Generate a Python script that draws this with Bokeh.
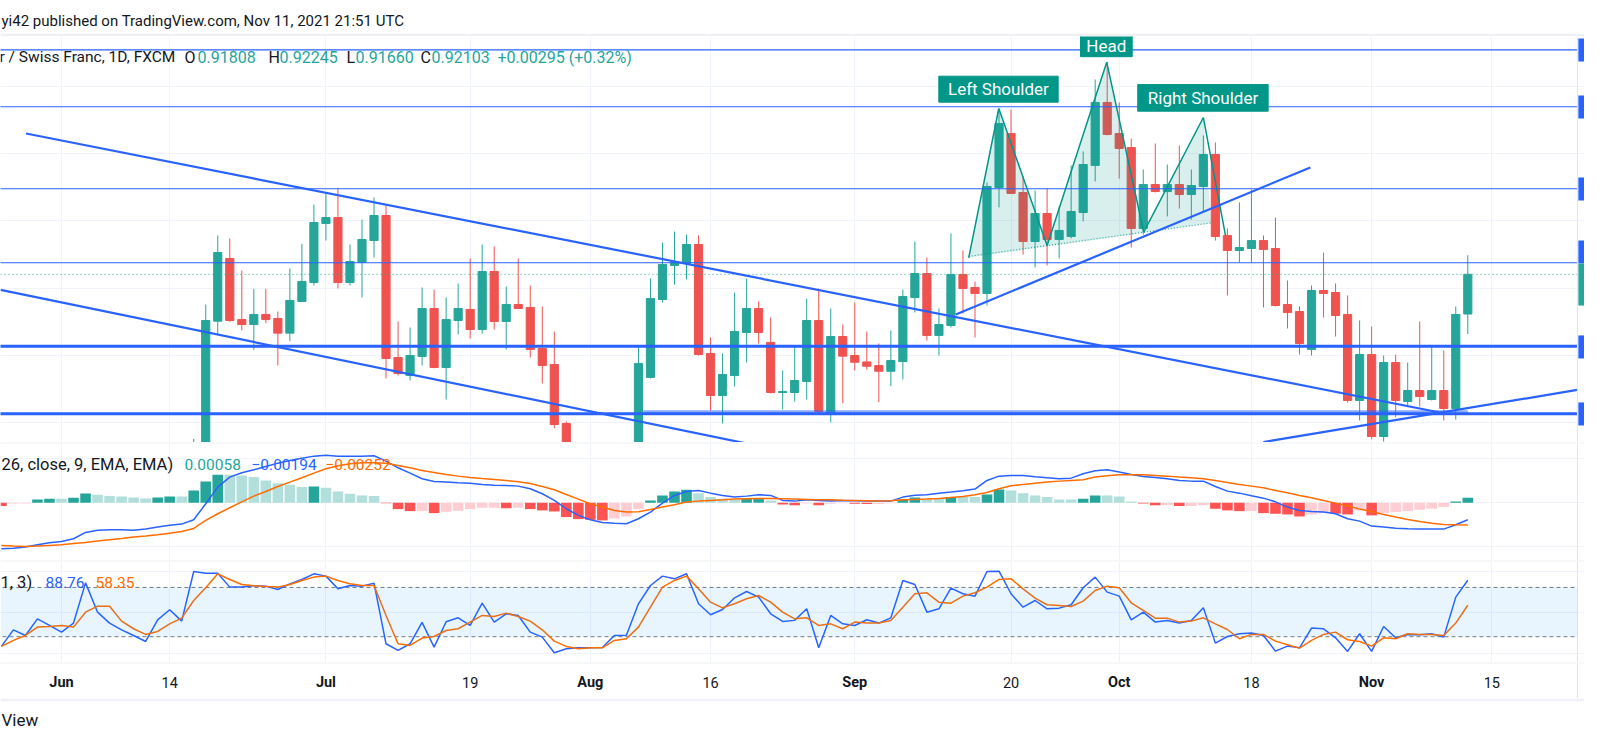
from bokeh.plotting import figure
from bokeh.layouts import column
from bokeh.models import Range1d, FixedTicker, Span, BoxAnnotation, Label, Grid
from bokeh.core.properties import value
from bokeh.embed import file_html
from bokeh.resources import INLINE

FONT = "Roboto"
TEXT = "#131722"
UP = "#26a69a"
DOWN = "#ef5350"
BLUE = "#2962ff"
ORANGE = "#ff6d00"
GRID = "#f0f3fa"
SEP = "#e0e3eb"
HS = "#009688"

# ---------------- data ----------------
# bar index 0 = Tue Jun 1 2021 (daily bars, Mon-Fri)
first_bar = -5          # first indicator bar on screen
candle_first = 11       # first candle that reaches into the visible price range

tick_bars = [0, 9, 22, 34, 44, 54, 66, 79, 88, 99, 109, 119]
tick_labels = ["Jun", "14", "Jul", "19", "Aug", "16", "Sep", "20", "Oct", "18", "Nov", "15"]
tick_is_month = [True, False, True, False, True, False, True, False, True, False, True, False]

opens = [0.89850, 0.90400, 0.91755, 0.92221, 0.91767, 0.91730, 0.91805, 0.91775, 0.91666, 0.91901,
         0.92042, 0.92481, 0.92525, 0.92042, 0.92191, 0.92354, 0.92540, 0.91485, 0.91351, 0.91493,
         0.91849, 0.91411, 0.91760, 0.91842, 0.91693, 0.92124, 0.91753, 0.91879, 0.91857, 0.91552,
         0.91433, 0.90995, 0.90780, 0.90610, 0.90680, 0.90410, 0.90520, 0.90660, 0.91337, 0.91916,
         0.92169, 0.92184, 0.92325, 0.91515, 0.91203, 0.91351, 0.91671, 0.91849, 0.91597, 0.91225,
         0.91225, 0.91307, 0.91760, 0.91069, 0.91641, 0.91500, 0.91452, 0.91425, 0.91383, 0.91455,
         0.91931, 0.92109, 0.91649, 0.91723, 0.92102, 0.92005, 0.91961, 0.92748, 0.93149, 0.92711,
         0.92347, 0.92555, 0.92362, 0.92384, 0.92562, 0.92912, 0.93380, 0.93149, 0.93045, 0.92444,
         0.92770, 0.92718, 0.92770, 0.92696, 0.92756, 0.92993, 0.92392, 0.92280, 0.92295, 0.92354,
         0.92295, 0.91879, 0.91827, 0.91545, 0.91983, 0.91968, 0.91805, 0.91166, 0.91507, 0.90898,
         0.91448, 0.91158, 0.91240, 0.91173, 0.91240, 0.91106, 0.91808]
highs = [0.90880, 0.91879, 0.92392, 0.92369, 0.92131, 0.91995, 0.91995, 0.91827, 0.92146, 0.92330,
         0.92622, 0.92713, 0.92746, 0.92325, 0.92510, 0.92674, 0.92614, 0.91753, 0.91708, 0.92005,
         0.91990, 0.91931, 0.92035, 0.92221, 0.92325, 0.92310, 0.92013, 0.92221, 0.92020, 0.91864,
         0.91678, 0.91010, 0.90830, 0.90770, 0.90800, 0.90620, 0.90740, 0.91567, 0.92072, 0.92340,
         0.92421, 0.92399, 0.92392, 0.91634, 0.91515, 0.91968, 0.92072, 0.91901, 0.91782, 0.91389,
         0.91574, 0.91923, 0.91998, 0.91849, 0.91730, 0.91894, 0.91678, 0.91589, 0.91686, 0.91990,
         0.92347, 0.92228, 0.91849, 0.92406, 0.92280, 0.92050, 0.92785, 0.93335, 0.93328, 0.92830,
         0.92726, 0.92741, 0.92607, 0.92912, 0.93016, 0.93551, 0.93679, 0.93380, 0.93112, 0.92882,
         0.93075, 0.92919, 0.93060, 0.92882, 0.93135, 0.93083, 0.92444, 0.92637, 0.92733, 0.92392,
         0.92525, 0.92057, 0.91864, 0.92020, 0.92265, 0.92035, 0.91946, 0.91760, 0.91715, 0.91500,
         0.91507, 0.91448, 0.91753, 0.91567, 0.91537, 0.91864, 0.92245]
lows = [0.89700, 0.90300, 0.91661, 0.91750, 0.91686, 0.91542, 0.91740, 0.91426, 0.91606, 0.91897,
        0.92020, 0.92354, 0.91998, 0.92020, 0.91931, 0.92228, 0.91329, 0.91351, 0.91314, 0.91426,
        0.91405, 0.91173, 0.91656, 0.91626, 0.91663, 0.91693, 0.91545, 0.91845, 0.91485, 0.91292,
        0.90960, 0.90700, 0.90550, 0.90430, 0.90350, 0.90180, 0.90400, 0.90600, 0.91330, 0.91894,
        0.92027, 0.92065, 0.91500, 0.91091, 0.90995, 0.91270, 0.91448, 0.91589, 0.91218, 0.91099,
        0.91158, 0.91173, 0.91062, 0.91002, 0.91146, 0.91389, 0.91396, 0.91153, 0.91272, 0.91322,
        0.91819, 0.91611, 0.91500, 0.91708, 0.91812, 0.91634, 0.91871, 0.92600, 0.92700, 0.92250,
        0.92154, 0.92169, 0.92221, 0.92369, 0.92496, 0.92793, 0.93135, 0.92815, 0.92302, 0.92399,
        0.92711, 0.92533, 0.92592, 0.92510, 0.92570, 0.92354, 0.91946, 0.92191, 0.92191, 0.91857,
        0.91864, 0.91701, 0.91507, 0.91500, 0.91782, 0.91641, 0.91151, 0.91017, 0.90878, 0.90860,
        0.91042, 0.91121, 0.91121, 0.91166, 0.91017, 0.91024, 0.91660]
closes = [0.90400, 0.91760, 0.92265, 0.91760, 0.91730, 0.91805, 0.91767, 0.91666, 0.91909, 0.92050,
          0.92488, 0.92525, 0.92042, 0.92198, 0.92362, 0.92540, 0.91478, 0.91366, 0.91500, 0.91849,
          0.91411, 0.91767, 0.91849, 0.91693, 0.92124, 0.91753, 0.91879, 0.91849, 0.91545, 0.91426,
          0.90987, 0.90780, 0.90610, 0.90680, 0.90410, 0.90520, 0.90660, 0.91441, 0.91923, 0.92176,
          0.92191, 0.92325, 0.91507, 0.91203, 0.91359, 0.91678, 0.91849, 0.91671, 0.91225, 0.91232,
          0.91314, 0.91760, 0.91084, 0.91641, 0.91495, 0.91450, 0.91420, 0.91383, 0.91463, 0.91938,
          0.92109, 0.91649, 0.91730, 0.92102, 0.91998, 0.91961, 0.92756, 0.93224, 0.92704, 0.92347,
          0.92555, 0.92362, 0.92429, 0.92570, 0.92919, 0.93380, 0.93142, 0.93038, 0.92444, 0.92770,
          0.92718, 0.92770, 0.92696, 0.92763, 0.92993, 0.92384, 0.92280, 0.92302, 0.92354, 0.92288,
          0.91871, 0.91819, 0.91589, 0.91983, 0.91961, 0.91797, 0.91166, 0.91507, 0.90898, 0.91448,
          0.91166, 0.91240, 0.91195, 0.91240, 0.91106, 0.91805, 0.92103]

macd_line = [-0.00524, -0.00517, -0.00505, -0.00479, -0.00456, -0.00441, -0.00410, -0.00338, -0.00312, -0.00308,
             -0.00308, -0.00312, -0.00300, -0.00277, -0.00255, -0.00243, -0.00194, -0.00011, 0.00179, 0.00293,
             0.00342, 0.00376, 0.00414, 0.00452, 0.00483, 0.00509, 0.00532, 0.00543, 0.00532, 0.00532,
             0.00532, 0.00536, 0.00475, 0.00399, 0.00338, 0.00274, 0.00243, 0.00236, 0.00228, 0.00224,
             0.00209, 0.00201, 0.00198, 0.00190, 0.00160, 0.00103, 0.00027, -0.00068, -0.00144, -0.00194,
             -0.00224, -0.00232, -0.00239, -0.00182, -0.00106, -0.00004, 0.00084, 0.00129, 0.00141, 0.00110,
             0.00084, 0.00065, 0.00076, 0.00091, 0.00084, 0.00027, 0.00019, 0.00034, 0.00027, 0.00019,
             0.00027, 0.00023, 0.00019, 0.00019, 0.00019, 0.00065, 0.00087, 0.00091, 0.00110, 0.00122,
             0.00137, 0.00156, 0.00255, 0.00304, 0.00312, 0.00312, 0.00296, 0.00285, 0.00274, 0.00281,
             0.00331, 0.00365, 0.00376, 0.00350, 0.00323, 0.00300, 0.00289, 0.00274, 0.00255, 0.00247,
             0.00247, 0.00186, 0.00133, 0.00110, 0.00080, 0.00053, 0.00011, -0.00049, -0.00087, -0.00099,
             -0.00106, -0.00125, -0.00182, -0.00209, -0.00266, -0.00277, -0.00289, -0.00296, -0.00300, -0.00300,
             -0.00300, -0.00251, -0.00194]
signal_line = [-0.00486, -0.00494, -0.00498, -0.00494, -0.00486, -0.00479, -0.00464, -0.00452, -0.00437, -0.00422,
               -0.00407, -0.00391, -0.00380, -0.00365, -0.00346, -0.00327, -0.00293, -0.00201, -0.00125, -0.00057,
               0.00011, 0.00076, 0.00129, 0.00186, 0.00236, 0.00285, 0.00338, 0.00388, 0.00422, 0.00445,
               0.00456, 0.00456, 0.00452, 0.00426, 0.00399, 0.00369, 0.00346, 0.00323, 0.00304, 0.00289,
               0.00277, 0.00266, 0.00255, 0.00239, 0.00220, 0.00186, 0.00148, 0.00095, 0.00042, -0.00011,
               -0.00049, -0.00087, -0.00106, -0.00103, -0.00076, -0.00049, -0.00023, 0.00008, 0.00019, 0.00027,
               0.00034, 0.00042, 0.00046, 0.00049, 0.00049, 0.00046, 0.00042, 0.00038, 0.00034, 0.00034,
               0.00030, 0.00027, 0.00023, 0.00019, 0.00023, 0.00034, 0.00038, 0.00042, 0.00049, 0.00061,
               0.00072, 0.00091, 0.00118, 0.00160, 0.00194, 0.00209, 0.00224, 0.00236, 0.00247, 0.00255,
               0.00262, 0.00293, 0.00308, 0.00319, 0.00319, 0.00319, 0.00312, 0.00304, 0.00293, 0.00285,
               0.00274, 0.00255, 0.00232, 0.00209, 0.00190, 0.00171, 0.00141, 0.00114, 0.00084, 0.00057,
               0.00027, -0.00004, -0.00034, -0.00072, -0.00099, -0.00133, -0.00163, -0.00190, -0.00213, -0.00232,
               -0.00247, -0.00251, -0.00252]
macd_hist = [-0.00038, -0.00008, -0.00008, 0.00038, 0.00046, 0.00046, 0.00057, 0.00106, 0.00091, 0.00076,
             0.00072, 0.00061, 0.00049, 0.00061, 0.00072, 0.00072, 0.00141, 0.00243, 0.00319, 0.00319,
             0.00312, 0.00293, 0.00255, 0.00224, 0.00205, 0.00179, 0.00186, 0.00171, 0.00129, 0.00103,
             0.00084, 0.00076, -0.00004, -0.00072, -0.00095, -0.00095, -0.00118, -0.00103, -0.00091, -0.00072,
             -0.00057, -0.00057, -0.00061, -0.00057, -0.00072, -0.00087, -0.00099, -0.00163, -0.00186, -0.00194,
             -0.00201, -0.00179, -0.00156, -0.00072, 0.00027, 0.00084, 0.00129, 0.00148, 0.00110, 0.00065,
             0.00046, 0.00038, 0.00046, 0.00053, 0.00027, -0.00019, -0.00027, -0.00008, -0.00027, -0.00011,
             -0.00004, -0.00011, -0.00015, -0.00015, -0.00004, 0.00034, 0.00061, 0.00046, 0.00046, 0.00065,
             0.00065, 0.00065, 0.00095, 0.00152, 0.00141, 0.00110, 0.00084, 0.00065, 0.00038, 0.00038,
             0.00046, 0.00084, 0.00084, 0.00072, 0.00015, -0.00008, -0.00027, -0.00027, -0.00038, -0.00038,
             -0.00027, -0.00068, -0.00087, -0.00095, -0.00095, -0.00118, -0.00125, -0.00133, -0.00156, -0.00133,
             -0.00118, -0.00125, -0.00133, -0.00087, -0.00144, -0.00118, -0.00106, -0.00095, -0.00080, -0.00068,
             -0.00049, 0.00015, 0.00058]

stoch_k = [8.2, 28.4, 21.5, 41.8, 33.7, 25.6, 36.6, 85.6, 49.9, 36.6,
           28.4, 21.5, 14.2, 40.6, 52.8, 39.0, 99.4, 97.4, 97.4, 80.4,
           80.4, 82.0, 81.6, 77.5, 84.4, 89.7, 96.6, 93.8, 78.3, 82.4,
           81.6, 85.2, 11.4, 3.3, 11.4, 37.4, 7.3, 38.2, 43.0, 33.7,
           60.9, 37.8, 47.9, 45.9, 25.6, 19.5, 0.4, 5.3, 6.5, 6.5,
           6.9, 21.5, 21.9, 60.1, 82.4, 93.8, 90.5, 96.6, 60.1, 46.7,
           53.2, 67.4, 75.1, 68.2, 47.9, 38.6, 39.9, 54.0, 6.5, 45.9,
           35.7, 33.7, 40.6, 36.6, 43.0, 88.5, 83.6, 49.9, 54.0, 79.1,
           72.3, 69.4, 99.4, 99.8, 72.3, 56.0, 64.1, 54.0, 54.8, 58.9,
           79.6, 92.6, 74.3, 69.4, 40.6, 49.9, 37.8, 39.8, 36.6, 39.8,
           55.2, 12.2, 20.3, 23.6, 24.4, 21.5, 2.5, 8.6, 6.5, 30.5,
           29.6, 18.7, 2.1, 23.6, 2.1, 32.5, 18.7, 22.7, 22.3, 23.6,
           19.5, 68.2, 88.76]
stoch_d = [8.2, 15.5, 21.5, 31.7, 32.5, 33.7, 31.7, 49.9, 57.2, 57.2,
           39.0, 29.7, 22.8, 26.4, 35.7, 42.6, 64.1, 79.6, 96.6, 89.7,
           83.6, 82.0, 81.2, 80.4, 83.6, 88.5, 92.6, 93.8, 88.5, 84.4,
           82.4, 82.4, 45.9, 11.4, 9.4, 18.3, 20.3, 27.6, 29.7, 37.8,
           45.9, 44.7, 48.7, 44.7, 39.0, 28.4, 14.6, 8.2, 5.3, 6.5,
           6.5, 15.5, 17.5, 31.7, 56.0, 80.4, 88.5, 93.8, 78.3, 62.1,
           55.2, 60.1, 66.2, 70.2, 62.1, 49.9, 41.8, 43.0, 33.7, 35.7,
           29.7, 37.8, 36.6, 36.6, 39.8, 56.0, 72.3, 73.5, 62.1, 60.9,
           69.4, 73.5, 80.4, 89.7, 90.5, 78.3, 67.0, 58.9, 58.0, 56.8,
           63.3, 76.3, 81.6, 79.6, 61.3, 52.0, 42.6, 42.6, 37.8, 39.0,
           43.0, 35.7, 28.8, 17.5, 22.8, 22.8, 14.6, 10.2, 6.1, 15.5,
           22.8, 25.6, 16.3, 14.2, 8.6, 18.7, 17.5, 23.6, 22.8, 22.8,
           21.5, 36.6, 58.35]

# horizontal levels drawn on the chart
levels_thin = [0.93771, 0.93348, 0.92739, 0.92189]
levels_thick = [0.91569, 0.91067]
# trend lines (bar index, price)
upper_channel_x = [-2.95, 115.1]
upper_channel_y = [0.93149, 0.91069]
lower_channel_x = [-5.07, 60.0]
lower_channel_y = [0.91988, 0.90791]
rising_trend_x = [74.4, 103.9]
rising_trend_y = [0.91805, 0.92897]
rising_support_x = [100.0, 126.1]
rising_support_y = [0.90857, 0.91244]
support_ray_x = [48.4, 117.0]
support_ray_y = [0.91082, 0.91082]
# head & shoulders pattern
hs_x = [75.48, 77.98, 82.0, 86.96, 90.04, 95.0, 96.84]
hs_y = [0.92226, 0.93335, 0.92317, 0.93679, 0.92416, 0.93268, 0.92392]
neck_x = [75.48, 95.67]
neck_y = [0.92237, 0.92485]
hs_labels = ["Left Shoulder", "Head", "Right Shoulder"]
hs_label_x = [77.95, 86.93, 94.97]
hs_label_y = [0.93478, 0.93800, 0.93414]
hs_box_left = [72.99, 84.78, 89.54]
hs_box_right = [82.92, 89.08, 100.39]
hs_box_bottom = [0.93382, 0.93720, 0.93315]
hs_box_top = [0.93575, 0.93930, 0.93513]
# price-scale tags (only their left edge is on screen)
tag_bottom = [0.93684, 0.93261, 0.92652, 0.92184, 0.91871, 0.91478, 0.90980]
tag_top = [0.93855, 0.93432, 0.92823, 0.92354, 0.92184, 0.91649, 0.91151]
tag_color = [BLUE, BLUE, BLUE, BLUE, UP, BLUE, BLUE]

# ---------------- layout helpers ----------------
W = 1584
X0, X1 = -5.075, 126.71
BORDER = 126.12
xr = Range1d(X0, X1)


def make_fig(h, x_range, y_range, top=0, bottom=0, fill=SEP):
    p = figure(width=W, height=h, x_range=x_range, y_range=y_range,
               output_backend="svg", toolbar_location=None,
               x_axis_type=None, y_axis_type=None, title=None, min_border=0)
    p.min_border_top = top
    p.min_border_bottom = bottom
    p.min_border_left = 0
    p.min_border_right = 0
    p.outline_line_color = None
    p.border_fill_color = fill
    p.background_fill_color = "white"
    return p


def add_grids(p, yticks):
    p.add_layout(Grid(dimension=0, ticker=FixedTicker(ticks=tick_bars), grid_line_color=GRID, grid_line_width=1))
    p.add_layout(Grid(dimension=1, ticker=FixedTicker(ticks=yticks), grid_line_color=GRID, grid_line_width=1))
    p.add_layout(Span(location=BORDER, dimension="height", line_color=SEP, line_width=1))


def add_label(p, x_px, y, text, color, size):
    p.add_layout(Label(x=x_px, y=y, x_units="screen", y_units="data", text=text,
                       text_color=color, text_font=FONT, text_font_size=size,
                       text_baseline="middle", text_align="left"))


# ---------------- header ----------------
header = make_fig(36, Range1d(0, W), Range1d(33, 0), bottom=3, fill="#eef0f4")
header.text(x=[1], y=[20], text=["yi42 published on TradingView.com, Nov 11, 2021 21:51 UTC"],
            text_font=value(FONT), text_font_size=value("15px"), text_color=TEXT,
            text_baseline="middle", text_align="left")

# ---------------- main price pane ----------------
main = make_fig(406, xr, Range1d(0.908536, 0.93870))
add_grids(main, [0.910, 0.915, 0.920, 0.925, 0.930, 0.935])

cx = list(range(candle_first, candle_first + len(opens)))
ccol = [UP if c >= o else DOWN for o, c in zip(opens, closes)]
main.segment(x0=cx, y0=lows, x1=cx, y1=highs, line_color=ccol, line_width=1)
main.vbar(x=cx, width=0.68, top=[max(o, c) for o, c in zip(opens, closes)],
          bottom=[min(o, c) for o, c in zip(opens, closes)],
          fill_color=ccol, line_color=ccol, line_width=1)

# last close dotted line
main.segment(x0=[X0 - 1], x1=[BORDER], y0=[closes[-1]], y1=[closes[-1]],
             line_color=UP, line_width=1, line_dash="1 3")

# head & shoulders
main.patch(hs_x[:6] + [neck_x[1]], hs_y[:6] + [neck_y[1]], fill_color=HS, fill_alpha=0.15, line_color=None)
main.line(hs_x, hs_y, line_color=HS, line_width=1.5)
main.line(neck_x, neck_y, line_color=HS, line_width=1.2, line_dash="1 2", alpha=0.8)

# horizontal levels
main.segment(x0=[X0 - 1] * len(levels_thin), x1=[BORDER] * len(levels_thin),
             y0=levels_thin, y1=levels_thin, line_color=BLUE, line_width=1.2)
main.segment(x0=[X0 - 1] * len(levels_thick), x1=[BORDER] * len(levels_thick),
             y0=levels_thick, y1=levels_thick, line_color=BLUE, line_width=3)
main.line(support_ray_x, support_ray_y, line_color=BLUE, line_width=3, alpha=0.55)

# trend lines
for xs, ys in [(upper_channel_x, upper_channel_y), (lower_channel_x, lower_channel_y),
               (rising_trend_x, rising_trend_y), (rising_support_x, rising_support_y)]:
    main.line(xs, ys, line_color=BLUE, line_width=2.2)

# pattern labels
main.quad(left=hs_box_left, right=hs_box_right, bottom=hs_box_bottom, top=hs_box_top,
          fill_color=HS, line_color=HS)
main.text(x=hs_label_x, y=hs_label_y, text=hs_labels, text_color="white",
          text_font=value(FONT), text_font_size=value("17px"),
          text_align="center", text_baseline="middle")

# price-scale tags
main.quad(left=[BORDER + 0.08] * len(tag_top), right=[X1 + 1] * len(tag_top),
          bottom=tag_bottom, top=tag_top, fill_color=tag_color, line_color=None)

# legend
yl = 0.93714
add_label(main, -1, yl, "r / Swiss Franc, 1D, FXCM", TEXT, "15.5px")
for xp, t, c in [(184, "O", TEXT), (197, "0.91808", UP), (268, "H", TEXT), (279, "0.92245", UP),
                 (346, "L", TEXT), (355, "0.91660", UP), (420, "C", TEXT), (431, "0.92103", UP),
                 (497, "+0.00295 (+0.32%)", UP)]:
    add_label(main, xp, yl, t, c, "16px")

# ---------------- MACD pane ----------------
macd = make_fig(118, xr, Range1d(-0.00658, 0.00676), top=1)
add_grids(macd, [-0.005, 0.0, 0.005])
mx = list(range(first_bar, first_bar + len(macd_hist)))
hcol = []
prev = None
for h in macd_hist:
    if h >= 0:
        hcol.append("#26a69a" if (prev is None or h > prev) else "#b2dfdb")
    else:
        hcol.append("#ff5252" if (prev is None or h < prev) else "#ffcdd2")
    prev = h
macd.vbar(x=mx, width=0.88, top=macd_hist, bottom=0, fill_color=hcol, line_color=None)
macd.line(mx, macd_line, line_color=BLUE, line_width=1.5)
macd.line(mx, signal_line, line_color=ORANGE, line_width=1.5)
ym = 0.00437
add_label(macd, 1, ym, "26, close, 9, EMA, EMA)", TEXT, "16.5px")
add_label(macd, 184, ym, "0.00058", UP, "15.5px")
add_label(macd, 251, ym, "\u22120.00194", BLUE, "15.5px")
add_label(macd, 325, ym, "\u22120.00252", ORANGE, "15.5px")

# ---------------- Stochastic pane ----------------
stoch = make_fig(102, xr, Range1d(-11.4, 111.6), top=1)
add_grids(stoch, [0, 50, 100])
stoch.add_layout(BoxAnnotation(bottom=20, top=80, right=BORDER, fill_color="#2196f3", fill_alpha=0.1,
                               line_color=None))
stoch.segment(x0=[X0 - 1, X0 - 1], x1=[BORDER, BORDER], y0=[20, 80], y1=[20, 80],
              line_color="#787b86", line_width=1, line_dash="4 3")
sx = list(range(first_bar, first_bar + len(stoch_k)))
stoch.line(sx, stoch_k, line_color=BLUE, line_width=1.5)
stoch.line(sx, stoch_d, line_color=ORANGE, line_width=1.5)
ys = 86.0
add_label(stoch, 0, ys, "1, 3)", TEXT, "16.5px")
add_label(stoch, 45, ys, "88.76", BLUE, "15.5px")
add_label(stoch, 95, ys, "58.35", ORANGE, "15.5px")

# ---------------- time axis ----------------
axis = make_fig(36, xr, Range1d(698, 663), top=1)
axis.add_layout(Span(location=BORDER, dimension="height", line_color=SEP, line_width=1))
mb = [b for b, m in zip(tick_bars, tick_is_month) if m]
ml = [l for l, m in zip(tick_labels, tick_is_month) if m]
db = [b for b, m in zip(tick_bars, tick_is_month) if not m]
dl = [l for l, m in zip(tick_labels, tick_is_month) if not m]
axis.text(x=mb, y=[682] * len(mb), text=ml, text_font=value(FONT), text_font_size=value("14.5px"),
          text_font_style="bold", text_color=TEXT, text_align="center", text_baseline="middle")
axis.text(x=db, y=[682] * len(db), text=dl, text_font=value(FONT), text_font_size=value("14.5px"),
          text_color=TEXT, text_align="center", text_baseline="middle")

# ---------------- footer ----------------
footer = make_fig(32, Range1d(0, W), Range1d(730, 701), top=3, fill="#eef0f4")
footer.text(x=[1], y=[719], text=["View"], text_font=value(FONT), text_font_size=value("17px"),
            text_color=TEXT, text_align="left", text_baseline="middle")

layout = column(header, main, macd, stoch, axis, footer, spacing=0)
open("out.html", "w").write(file_html(layout, INLINE))
